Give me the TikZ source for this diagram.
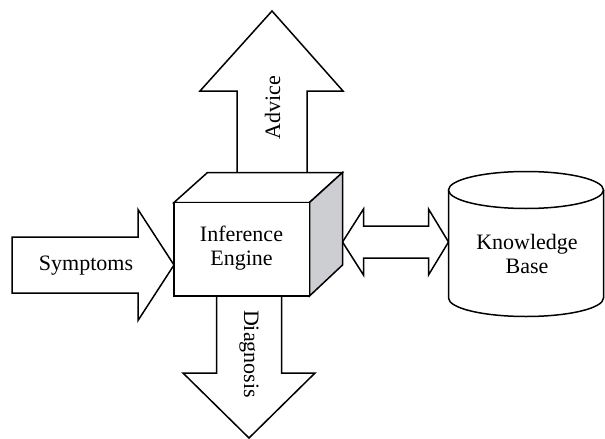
\documentclass[tikz,border=0pt]{standalone}
\usepackage{fontspec}
\setmainfont{Liberation Serif}
\definecolor{sidegray}{RGB}{205,206,210}
\begin{document}
\begin{tikzpicture}[x=1pt,y=-1pt,line width=1.5pt,line join=miter,
	font=\fontsize{22}{24}\selectfont,
	lbl/.style={align=center,inner sep=0pt},
	blockarrow/.style={draw,fill=white}]
	\useasboundingbox (0,0) rectangle (605,439);
	% arrows out of and into the engine
	\draw[blockarrow] (237,172)--(237,91)--(200,91)--(272,11)--(343,91)--(307,91)--(307,172);
	\draw[blockarrow] (12,237)--(138,237)--(138,209.5)--(174,265)--(138,320.5)--(138,293)--(12,293)--cycle;
	\draw[blockarrow] (216.5,296)--(216.5,373)--(183,373)--(249,438)--(315,373)--(281.5,373)--(281.5,296);
	\draw[blockarrow] (342.5,242)--(363.5,209)--(363.5,226)--(428.5,226)--(428.5,209)--(448.5,242)--(428.5,275)--(428.5,258)--(363.5,258)--(363.5,275)--cycle;
	% engine box
	\draw[fill=white] (174,202.5)--(207.5,172.5)--(342.5,172.5)--(309.5,202.5)--cycle;
	\draw[fill=sidegray] (309.5,202.5)--(342.5,172.5)--(342.5,265)--(309.5,296)--cycle;
	\draw[fill=white] (174,202.5) rectangle (309.5,296);
	% knowledge base drum
	\draw[fill=white] (448.5,190)--(448.5,298) arc[start angle=180,end angle=360,x radius=77.5pt,y radius=18.5pt]--(603.5,190);
	\draw[fill=white] (526,190) ellipse[x radius=77.5pt,y radius=18.5pt];
	% labels
	\path (241.5,248) node[lbl] (engine) {Inference\\Engine}
		(86,266) node[lbl] (symptoms) {Symptoms}
		(527,254) node[lbl] (kb) {Knowledge\\Base}
		(272.5,108) node[lbl,rotate=90] (advice) {Advice}
		(249,354) node[lbl,rotate=-90] (diagnosis) {Diagnosis};
\end{tikzpicture}
\end{document}
